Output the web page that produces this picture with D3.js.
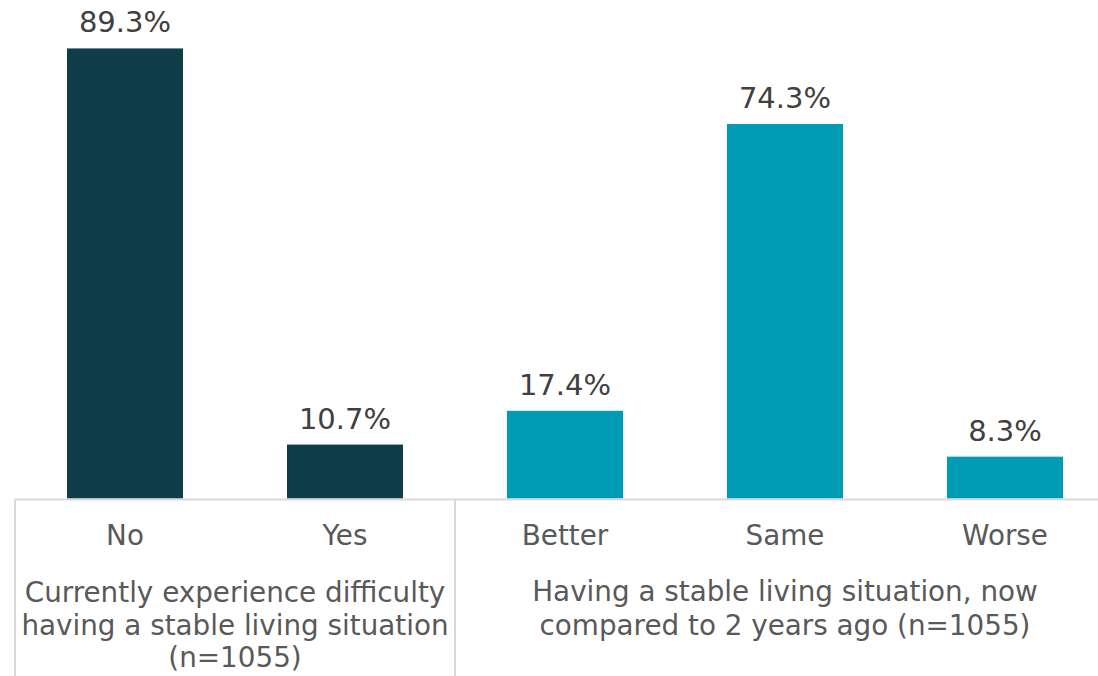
<!DOCTYPE html>
<html><head><meta charset="utf-8">
<script src="https://cdn.jsdelivr.net/npm/d3@7"></script>
<style>
html,body{margin:0;padding:0;background:#fff;}
svg{display:block;}
</style></head>
<body>
<svg id="chart" width="1098" height="676"></svg>
<script>
const categories = ["No", "Yes", "Better", "Same", "Worse"];
const values = [89.3, 10.7, 17.4, 74.3, 8.3];
const groupOf = [0, 0, 1, 1, 1];
const groupLabels = [
  ["Currently experience difficulty", "having a stable living situation", "(n=1055)"],
  ["Having a stable living situation, now", "compared to 2 years ago (n=1055)"]
];
const colors = ["#0f3d4a", "#009bb5"];

const svg = d3.select("#chart");
const W = 1098, H = 676;
const baseY = 498.5;

const x = d3.scaleBand().domain(categories).range([15, 1115])
  .paddingInner(104/220).paddingOuter(52/220);
const y = d3.scaleLinear().domain([0, 100]).range([baseY, baseY - 504]);

const font = "Verdana, 'DejaVu Sans', sans-serif";

// bars
svg.append("g").selectAll("rect").data(categories).join("rect")
  .attr("x", d => x(d))
  .attr("width", x.bandwidth())
  .attr("y", (d,i) => y(values[i]))
  .attr("height", (d,i) => baseY - y(values[i]))
  .attr("fill", (d,i) => colors[groupOf[i]]);

// value labels
svg.append("g").selectAll("text").data(categories).join("text")
  .attr("x", d => x(d) + x.bandwidth()/2)
  .attr("y", (d,i) => y(values[i]) - 16)
  .attr("text-anchor", "middle")
  .attr("font-family", font)
  .attr("font-size", 29)
  .attr("fill", "#404040")
  .text((d,i) => values[i].toFixed(1) + "%");

// axis line
svg.append("line").attr("x1", 15).attr("x2", W).attr("y1", baseY+1).attr("y2", baseY+1)
  .attr("stroke", "#d9d9d9").attr("stroke-width", 2);

// group separators
const step = x.step();
const sepXs = [x(categories[0]) - (step - x.bandwidth())/2,
               (x("Yes") + x.bandwidth() + x("Better"))/2,
               x(categories[4]) + x.bandwidth() + (step - x.bandwidth())/2];
svg.append("g").selectAll("line").data(sepXs).join("line")
  .attr("x1", d => d).attr("x2", d => d)
  .attr("y1", baseY+1).attr("y2", H)
  .attr("stroke", "#d9d9d9").attr("stroke-width", 2);

// category labels
svg.append("g").selectAll("text").data(categories).join("text")
  .attr("x", d => x(d) + x.bandwidth()/2)
  .attr("y", 545)
  .attr("text-anchor", "middle")
  .attr("font-family", font)
  .attr("font-size", 27.8)
  .attr("fill", "#595959")
  .text(d => d);

// group labels
const groupCenters = [(sepXs[0] + sepXs[1]) / 2, (sepXs[1] + sepXs[2]) / 2];
const groupBaselines = [[602, 635, 667], [601, 635]];
groupLabels.forEach((lines, g) => {
  svg.append("text")
    .attr("text-anchor", "middle")
    .attr("font-family", font)
    .attr("font-size", 27.8)
    .attr("fill", "#595959")
    .selectAll("tspan").data(lines).join("tspan")
    .attr("x", groupCenters[g])
    .attr("y", (d,i) => groupBaselines[g][i])
    .text(d => d);
});
</script>
</body></html>
